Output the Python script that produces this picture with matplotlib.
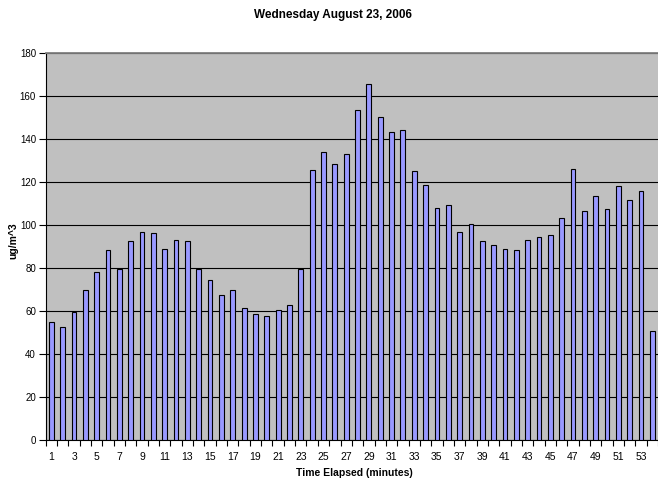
import matplotlib
matplotlib.use("Agg")
import matplotlib.pyplot as plt
import numpy as np

minutes = list(range(1, 55))
values = [55.0, 52.5, 59.8, 69.9, 78.1, 88.4, 79.7, 92.4, 97.0, 96.4,
          88.7, 93.0, 92.4, 79.7, 74.7, 67.4, 69.6, 61.5, 58.5, 57.6,
          60.4, 63.0, 79.7, 125.9, 134.0, 128.3, 133.1, 153.6, 165.8, 150.3,
          143.3, 144.3, 125.2, 118.9, 107.9, 109.6, 96.7, 100.5, 92.5, 91.0,
          89.0, 88.4, 93.3, 94.3, 95.2, 103.3, 126.2, 106.7, 113.5, 107.5,
          118.3, 111.8, 115.7, 50.8]
xtick_labels = [str(m) for m in minutes if m % 2 == 1]
yticks = list(range(0, 181, 20))

plt.rcParams['font.family'] = ['Liberation Sans', 'DejaVu Sans']

W, H = 658, 479
fig = plt.figure(figsize=(W / 100, H / 100), dpi=100)
left, right, top, bottom = 45.7, 658, 53.3, 440
ax = fig.add_axes([left / W, (H - bottom) / H, (right - left) / W, (bottom - top) / H])
ax.set_facecolor('#C0C0C0')

ax.bar(minutes, values, width=0.42, color='#9999FF', edgecolor='black', linewidth=0.8, zorder=3)

ax.set_xlim(0.5, 0.5 + (right - left) / 11.44)
ax.set_ylim(0, 180)
ax.set_yticks(yticks)
ax.set_yticklabels([str(v) for v in yticks], fontsize=7)
ax.yaxis.grid(True, color='black', linewidth=0.8, zorder=1)
ax.set_axisbelow(True)

ax.set_xticks([m for m in minutes if m % 2 == 1])
ax.set_xticklabels(xtick_labels, fontsize=7.5)
ax.tick_params(axis='x', which='major', length=0, pad=9)
ax.set_xticks(np.arange(0.5, 55, 1.0), minor=True)
ax.tick_params(axis='x', which='minor', length=4, width=0.8, direction='out', color='black')
ax.tick_params(axis='y', length=5, width=0.8, direction='out', pad=2)

ax.spines['right'].set_visible(False)
ax.spines['top'].set_color('#808080')
ax.spines['top'].set_linewidth(1.3)
ax.spines['left'].set_color('black')
ax.spines['bottom'].set_color('black')

ax.set_ylabel('ug/m^3', fontsize=7.5, fontweight='bold')
ax.yaxis.set_label_coords(-(left - 13.5) / (right - left), (bottom - 241) / (bottom - top))
ax.set_xlabel('Time Elapsed (minutes)', fontsize=7.5, fontweight='bold')
ax.xaxis.set_label_coords((354 - left) / (right - left), -(473 - bottom) / (bottom - top))
ax.xaxis.label.set_va('center')
ax.yaxis.label.set_va('center')
fig.text(333 / W, 1 - 15 / H, 'Wednesday August 23, 2006', ha='center', va='center',
         fontsize=8.5, fontweight='bold')

fig.savefig('out.png', dpi=100)
